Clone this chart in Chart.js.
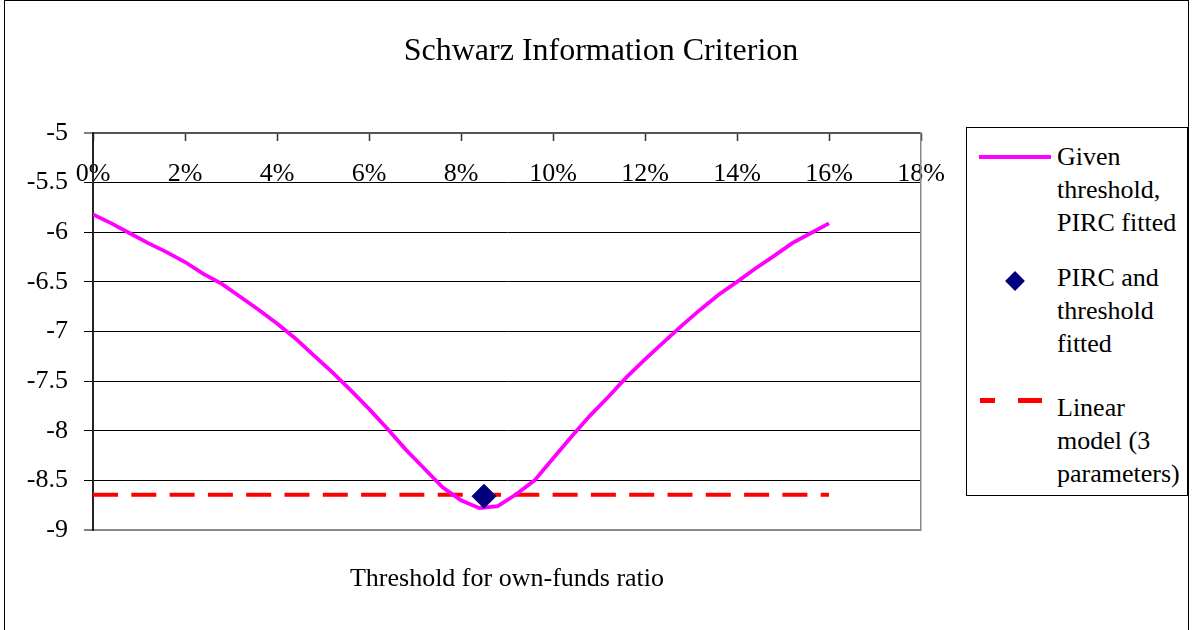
<!DOCTYPE html>
<html>
<head>
<meta charset="utf-8">
<script src="https://cdn.jsdelivr.net/npm/chart.js@4.4.0/dist/chart.umd.min.js"></script>
<style>
  html, body { margin: 0; padding: 0; background: #fff; }
  #wrap { position: relative; width: 1192px; height: 630px; overflow: hidden; }
  #c { position: absolute; left: 0; top: 0; }
  #frame { position: absolute; left: 4px; top: 0px; width: 1185px; height: 640px; border: 1.5px solid #000; box-sizing: border-box; pointer-events: none; }
  #legend { position: absolute; left: 966px; top: 127px; width: 222px; height: 369px; border: 1px solid #000; box-sizing: border-box; background: #fff; }
  .lt { position: absolute; left: 1057px; font-family: "Liberation Serif", "Times New Roman", serif; font-size: 26px; line-height: 33px; color: #000; white-space: nowrap; }
  .sw { position: absolute; }
</style>
</head>
<body>
<div id="wrap">
  <canvas id="c" width="1192" height="630"></canvas>
  <div id="frame"></div>
  <div id="legend"></div>
  <div class="sw" style="left:979px;top:155px;width:72px;height:4px;background:#FF00FF;"></div>
  <div class="lt" id="lg0" style="top:140px;"></div>
  <div class="sw" style="left:1008px;top:274px;width:14px;height:14px;background:#000080;transform:rotate(45deg);"></div>
  <div class="lt" id="lg1" style="top:261px;"></div>
  <div class="sw" style="left:980px;top:398px;width:15px;height:4.5px;background:#FF0000;"></div>
  <div class="sw" style="left:1018px;top:398px;width:24px;height:4.5px;background:#FF0000;"></div>
  <div class="lt" id="lg2" style="top:391px;"></div>
</div>
<script>
// ---- data ----
const titleText = "Schwarz Information Criterion";
const xAxisTitle = "Threshold for own-funds ratio";
const seriesNames = [
  ["Given", "threshold,", "PIRC fitted"],
  ["PIRC and", "threshold", "fitted"],
  ["Linear", "model (3", "parameters)"]
];
// threshold (%)
const thresholds = [0, 0.4, 0.8, 1.2, 1.6, 2.0, 2.4, 2.8, 3.2, 3.6, 4.0, 4.4, 4.8, 5.2, 5.6, 6.0, 6.4, 6.8, 7.2, 7.6,
                    8.0, 8.4, 8.8, 9.2, 9.6, 10.0, 10.4, 10.8, 11.2, 11.6, 12.0, 12.4, 12.8, 13.2, 13.6, 14.0, 14.4, 14.8, 15.2, 15.6, 16.0];
// SIC, given threshold, PIRC fitted
const sicGiven = [-5.82, -5.91, -6.01, -6.11, -6.20, -6.30, -6.42, -6.52, -6.65, -6.78, -6.92, -7.07, -7.24, -7.41, -7.59, -7.78, -7.98, -8.19, -8.38, -8.57,
                  -8.70, -8.78, -8.76, -8.64, -8.50, -8.28, -8.06, -7.85, -7.66, -7.46, -7.28, -7.11, -6.94, -6.78, -6.63, -6.50, -6.365, -6.24, -6.11, -6.01, -5.91];
// PIRC and threshold fitted
const fittedThreshold = [8.5];
const fittedSic = [-8.66];
// Linear model (3 parameters)
const linearX = [0, 16];
const linearSic = [-8.645, -8.645];
// axes
const xMin = 0, xMax = 18, xStep = 2;
const yMin = -9, yMax = -5, yStep = 0.5;

// ---- legend text ----
seriesNames.forEach((lines, i) => {
  document.getElementById('lg' + i).innerHTML = lines.map(s => s.replace(/&/g,'&amp;')).join('<br>');
});

const serif = '"Liberation Serif", "Times New Roman", serif';
const toPts = (xs, ys) => xs.map((x, i) => ({ x: x, y: ys[i] }));

new Chart(document.getElementById('c'), {
  type: 'scatter',
  data: {
    datasets: [
      {
        label: seriesNames[1].join(' '),
        data: toPts(fittedThreshold, fittedSic),
        pointStyle: 'rectRot',
        pointRadius: 12,
        pointBackgroundColor: '#000080',
        pointBorderColor: '#000080',
        pointBorderWidth: 1,
        showLine: false
      },
      {
        label: seriesNames[0].join(' '),
        data: toPts(thresholds, sicGiven),
        showLine: true,
        borderColor: '#FF00FF',
        borderWidth: 3.8,
        pointRadius: 0,
        tension: 0
      },
      {
        label: seriesNames[2].join(' '),
        data: toPts(linearX, linearSic),
        showLine: true,
        borderColor: '#FF0000',
        borderWidth: 4,
        borderDash: [25, 13.3],
        pointRadius: 0
      }
    ]
  },
  options: {
    responsive: false,
    animation: false,
    events: [],
    layout: { padding: { left: 10, right: 0, top: 0, bottom: 0 } },
    plugins: {
      legend: { display: false },
      tooltip: { enabled: false },
      title: {
        display: true,
        text: titleText,
        color: '#000',
        font: { family: serif, size: 32, weight: 'normal' },
        padding: { top: 32, bottom: 62.6 }
      }
    },
    scales: {
      x: {
        type: 'linear', position: 'bottom', min: xMin, max: xMax,
        ticks: { display: false, stepSize: xStep },
        grid: { drawOnChartArea: false, drawTicks: false },
        border: { display: false },
        title: { display: true, text: xAxisTitle, color: '#000', font: { family: serif, size: 26 }, padding: { top: 0, bottom: 35 } },
        afterFit: s => { s.height = 100; }
      },
      xLabels: {
        type: 'linear', position: { y: -5.5 }, min: xMin, max: xMax,
        ticks: { stepSize: xStep, padding: -24, color: '#000', font: { family: serif, size: 26 }, callback: v => v + '%', autoSkip: false, maxRotation: 0 },
        grid: { display: false, drawTicks: false },
        border: { display: false }
      },
      xMarks: {
        type: 'linear', position: { y: -5 }, min: xMin, max: xMax,
        ticks: { display: false, stepSize: xStep },
        grid: { drawOnChartArea: false, drawTicks: true, tickLength: 8, tickColor: '#333', tickWidth: 1.5 },
        border: { display: false }
      },
      y: {
        type: 'linear', position: 'left', min: yMin, max: yMax,
        ticks: { stepSize: yStep, padding: 16, color: '#000', font: { family: serif, size: 26 }, callback: v => String(v) },
        grid: {
          color: c => (c.tick && c.tick.value === yMax) ? '#555' : (c.tick && c.tick.value === yMin) ? '#888' : '#000',
          lineWidth: c => (c.tick && (c.tick.value === yMax || c.tick.value === yMin)) ? 2 : 1,
          tickLength: 9, tickColor: '#000', tickWidth: 1
        },
        border: { display: true, color: '#222', width: 2 },
        afterFit: s => { s.width = 83; }
      },
      yRight: {
        type: 'linear', position: 'right', min: yMin, max: yMax,
        ticks: { display: false },
        grid: { drawOnChartArea: false, drawTicks: false },
        border: { display: true, color: '#888', width: 1.5 },
        afterFit: s => { s.width = 271; }
      }
    }
  }
});
</script>
</body>
</html>
